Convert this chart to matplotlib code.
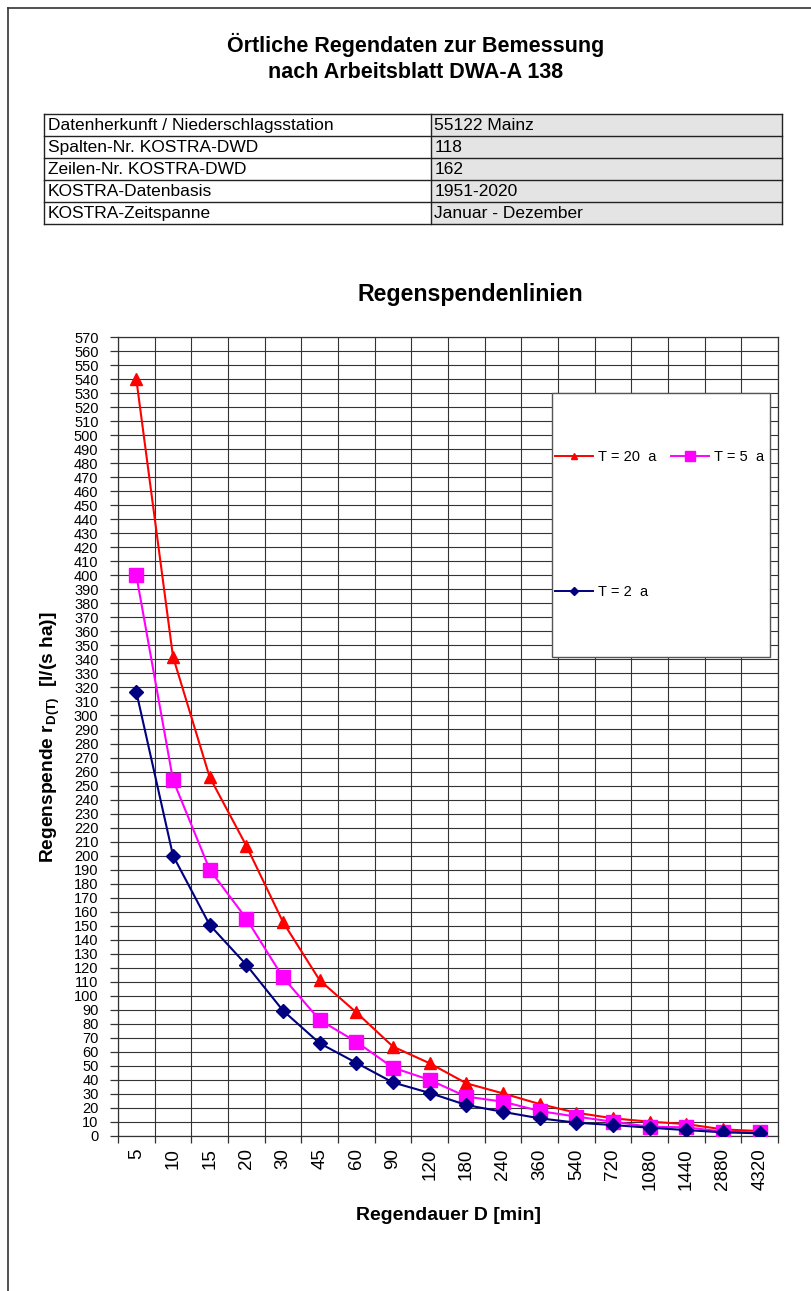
import matplotlib
matplotlib.use("Agg")
import matplotlib.pyplot as plt
from matplotlib.lines import Line2D
from matplotlib.patches import Rectangle

plt.rcParams['font.family'] = ['Liberation Sans', 'DejaVu Sans']
plt.rcParams['mathtext.fontset'] = 'custom'
plt.rcParams['mathtext.rm'] = 'Liberation Sans:bold'
plt.rcParams['mathtext.bf'] = 'Liberation Sans:bold'

# ---------------- data ----------------
durations = ["5", "10", "15", "20", "30", "45", "60", "90", "120", "180", "240",
             "360", "540", "720", "1080", "1440", "2880", "4320"]
t20 = [540, 342, 256, 207, 152.5, 111, 88, 63.6, 51.7, 37.4, 30.2, 22.6, 16.4,
       12.4, 10, 8.3, 4.5, 3.3]
t5 = [400, 254, 190, 155, 113, 82.6, 67, 48.6, 39.8, 27.9, 24.3, 17.6, 13.6,
      10, 6.4, 6, 2.9, 2.4]
t2 = [316.8, 200, 150.5, 122, 89.3, 66, 52, 38, 30.5, 21.9, 17, 12.4, 9.3,
      7.6, 5.7, 4, 2.4, 1.7]
series_labels = ["T = 20  a", "T = 5  a", "T = 2  a"]

table_keys = ["Datenherkunft / Niederschlagsstation", "Spalten-Nr. KOSTRA-DWD",
              "Zeilen-Nr. KOSTRA-DWD", "KOSTRA-Datenbasis", "KOSTRA-Zeitspanne"]
table_vals = ["55122 Mainz", "118", "162", "1951-2020", "Januar - Dezember"]

title_lines = ["Örtliche Regendaten zur Bemessung", "nach Arbeitsblatt DWA-A 138"]
chart_title = "Regenspendenlinien"
ylabel = r"Regenspende r$_{\mathrm{D(T)}}$  [l/(s ha)]"
xlabel = "Regendauer D [min]"

# ---------------- figure ----------------
W, H = 811, 1291
fig = plt.figure(figsize=(W / 100, H / 100), dpi=100)

def fx(px):
    return px / W

def fy(py):
    return 1 - py / H

# main plot area (pixel geometry)
L, R, T, B = 118, 778, 337.3, 1135.7
ax = fig.add_axes([fx(L), fy(B), fx(R - L), (B - T) / H])
ax.set_zorder(1)

x = list(range(len(durations)))
ax.plot(x, t20, color='#FF0000', lw=1.5, marker='^', ms=8.5, mec='#FF0000',
        mfc='#FF0000', zorder=3)
ax.plot(x, t5, color='#FF00FF', lw=1.5, marker='s', ms=9.5, mec='#FF00FF',
        mfc='#FF00FF', zorder=4)
ax.plot(x, t2, color='#000080', lw=1.5, marker='D', ms=7, mec='#000080',
        mfc='#000080', zorder=5)

ax.set_xlim(-0.5, len(durations) - 0.5)
ax.set_ylim(0, 570)
ax.set_xticks(x)
ax.set_xticklabels(durations, rotation=90, fontsize=13.5)
ax.set_xticks([i - 0.5 for i in range(len(durations) + 1)], minor=True)
ax.tick_params(axis='x', which='major', length=0, pad=9)
ax.tick_params(axis='x', which='minor', length=5, width=0.9, color='#333333',
               direction='out')
ax.set_yticks(range(0, 571, 10))
ax.set_yticklabels([str(v) for v in range(0, 571, 10)], fontsize=10.5)
ax.tick_params(axis='y', which='major', length=6, width=0.9, color='#333333',
               direction='out', pad=8)
ax.grid(True, axis='y', which='major', color='#333333', lw=0.8)
ax.grid(True, axis='x', which='minor', color='#333333', lw=0.8)
ax.set_axisbelow(True)
for s in ax.spines.values():
    s.set_color('#333333')
    s.set_linewidth(0.9)

ax.set_xlabel(xlabel, fontsize=14, fontweight='bold')
ax.set_ylabel(ylabel, fontsize=13.8, fontweight='bold')
ax.yaxis.set_label_coords((62 - L) / (R - L), (B - 737) / (B - T))
ax.xaxis.set_label_coords((449 - L) / (R - L), -(1207 - B) / (B - T))

# ---------------- overlay (pixel coordinates) ----------------
ov = fig.add_axes([0, 0, 1, 1])
ov.set_zorder(5)
ov.set_xlim(0, W)
ov.set_ylim(H, 0)
ov.axis('off')
ov.patch.set_visible(False)

# page border
ov.plot([8, 8], [8, H], color='#333333', lw=1.2)
ov.plot([8, W], [8, 8], color='#333333', lw=1.2)

# titles
ov.text(416, 45, title_lines[0], ha='center', va='center', fontsize=15.5,
        fontweight='bold')
ov.text(416, 72, title_lines[1], ha='center', va='center', fontsize=15.5,
        fontweight='bold')
ov.text(470, 295, chart_title, ha='center', va='center', fontsize=16.7,
        fontweight='bold')

# table
tl, tr, tt, tb, tc = 44, 782, 113.5, 224, 430.5
rh = (tb - tt) / len(table_keys)
ov.add_patch(Rectangle((tc, tt), tr - tc, tb - tt, facecolor='#e4e4e4',
                       edgecolor='none'))
for i, (k, v) in enumerate(zip(table_keys, table_vals)):
    yc = tt + (i + 0.5) * rh
    ov.text(tl + 4, yc + 0.5, k, ha='left', va='center', fontsize=12.5)
    ov.text(tc + 4, yc + 0.5, v, ha='left', va='center', fontsize=12.5)
for i in range(len(table_keys) + 1):
    yy = tt + i * rh
    ov.plot([tl, tr], [yy, yy], color='#222222', lw=1.0)
ov.plot([tl, tl], [tt, tb], color='#222222', lw=1.0)
ov.plot([tr, tr], [tt, tb], color='#222222', lw=1.0)
ov.plot([tc, tc], [tt, tb], color='#222222', lw=1.0)

# legend box
ov.add_patch(Rectangle((552, 393), 770 - 552, 657 - 393, facecolor='white',
                       edgecolor='#555555', lw=1.0))
h20 = Line2D([], [], color='#FF0000', lw=1.4, marker='^', ms=5)
h5 = Line2D([], [], color='#FF00FF', lw=1.4, marker='s', ms=7)
h2 = Line2D([], [], color='#000080', lw=1.4, marker='D', ms=4)
leg = ov.legend([h20, h2, h5], [series_labels[0], series_labels[2], series_labels[1]],
                ncol=2, loc='upper left', bbox_to_anchor=(555, 450),
                bbox_transform=ov.transData, frameon=False, fontsize=10.5,
                handlelength=2.6, handletextpad=0.35, columnspacing=1.0,
                labelspacing=8.3, borderpad=0, borderaxespad=0)

fig.savefig("out.png", dpi=100)
